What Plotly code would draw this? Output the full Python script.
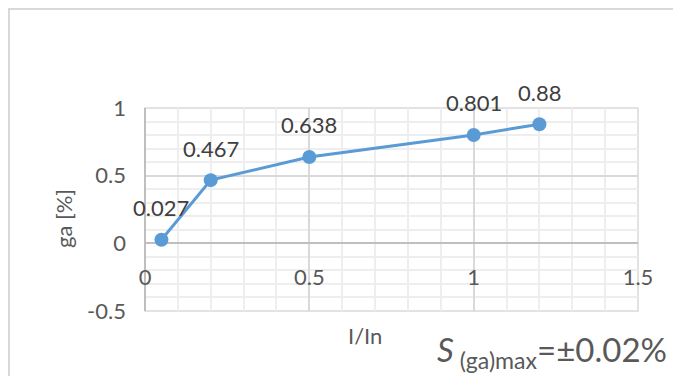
import plotly.graph_objects as go

# Measured error of the ga value across the current range
current_ratio = [0.05, 0.2, 0.5, 1.0, 1.2]      # I/In
ga_percent = [0.027, 0.467, 0.638, 0.801, 0.88]  # ga [%]

x_ticks = [0, 0.5, 1, 1.5]
y_ticks = [-0.5, 0, 0.5, 1]

FONT = "Lato"
LINE_BLUE = "#5B9BD5"
TEXT_GRAY = "#595959"
LABEL_GRAY = "#404040"
FS = 22

W, H = 673, 376
M_L, M_R, M_T, M_B = 145, 35, 108, 65

fig = go.Figure()
fig.add_trace(go.Scatter(
    x=current_ratio, y=ga_percent,
    mode="lines+markers",
    line=dict(color=LINE_BLUE, width=3),
    marker=dict(color=LINE_BLUE, size=14),
    showlegend=False, hoverinfo="x+y",
))

# value labels above each point
for xv, yv in zip(current_ratio, ga_percent):
    fig.add_annotation(x=xv, y=yv, text=f"{yv:g}", showarrow=False,
                       yshift=32, font=dict(family=FONT, size=FS, color=LABEL_GRAY))

# plot area outline
fig.add_shape(type="rect", xref="x domain", yref="y domain", x0=0, x1=1, y0=0, y1=1,
              line=dict(color="#D9D9D9", width=1.5), layer="below")

# chart frame
pw, ph = W - M_L - M_R, H - M_T - M_B
fig.add_shape(type="rect", xref="paper", yref="paper",
              x0=(9 - M_L) / pw, x1=(W + 20 - M_L) / pw,
              y0=(H - M_B - (H + 20)) / ph, y1=(H - M_B - 9) / ph,
              line=dict(color="#D9D9D9", width=2), layer="below")

y_min, y_max = -0.5, 1.0
fig.update_xaxes(
    range=[0, 1.5], tickvals=x_ticks, ticktext=[f"{v:g}" for v in x_ticks],
    showgrid=True, gridcolor="#D9D9D9", gridwidth=1.5,
    minor=dict(dtick=0.1, showgrid=True, gridcolor="#EEEEEE", gridwidth=1.5),
    zeroline=True, zerolinecolor="#BFBFBF", zerolinewidth=2,
    anchor="free", position=(0 - y_min) / (y_max - y_min),
    ticks="", ticklabelstandoff=19, showline=False,
    tickfont=dict(family=FONT, size=FS, color=TEXT_GRAY),
)
fig.update_yaxes(
    range=[y_min, y_max], tickvals=y_ticks, ticktext=[f"{v:g}" for v in y_ticks],
    showgrid=True, gridcolor="#D9D9D9", gridwidth=1.5,
    minor=dict(dtick=0.1, showgrid=True, gridcolor="#EEEEEE", gridwidth=1.5),
    zeroline=True, zerolinecolor="#BFBFBF", zerolinewidth=2,
    ticks="", ticklabelstandoff=18, showline=False,
    tickfont=dict(family=FONT, size=FS, color=TEXT_GRAY),
)

# axis titles
fig.add_annotation(xref="paper", yref="paper", x=(365 - M_L) / pw, y=(H - M_B - 335) / ph,
                   xanchor="center", yanchor="middle",
                   text="I/In", showarrow=False,
                   font=dict(family=FONT, size=FS, color=TEXT_GRAY))
fig.add_annotation(xref="paper", yref="paper", x=(63 - M_L) / pw, y=(H - M_B - 219) / ph,
                   xanchor="center", yanchor="middle",
                   text="ga [%]", showarrow=False, textangle=-90,
                   font=dict(family=FONT, size=FS, color=TEXT_GRAY))

# maximum uncertainty note
fig.add_annotation(xref="paper", yref="paper", x=(669 - M_L) / pw, y=(H - M_B - 351) / ph,
                   xanchor="right", yanchor="middle",
                   text="<i>S</i><sub> (ga)max</sub>=±0.02%", showarrow=False,
                   font=dict(family=FONT, size=33, color=TEXT_GRAY))

fig.update_layout(
    width=W, height=H,
    margin=dict(l=M_L, r=M_R, t=M_T, b=M_B),
    paper_bgcolor="white", plot_bgcolor="white",
    font=dict(family=FONT, color=TEXT_GRAY),
)

fig.write_html("out.html")
